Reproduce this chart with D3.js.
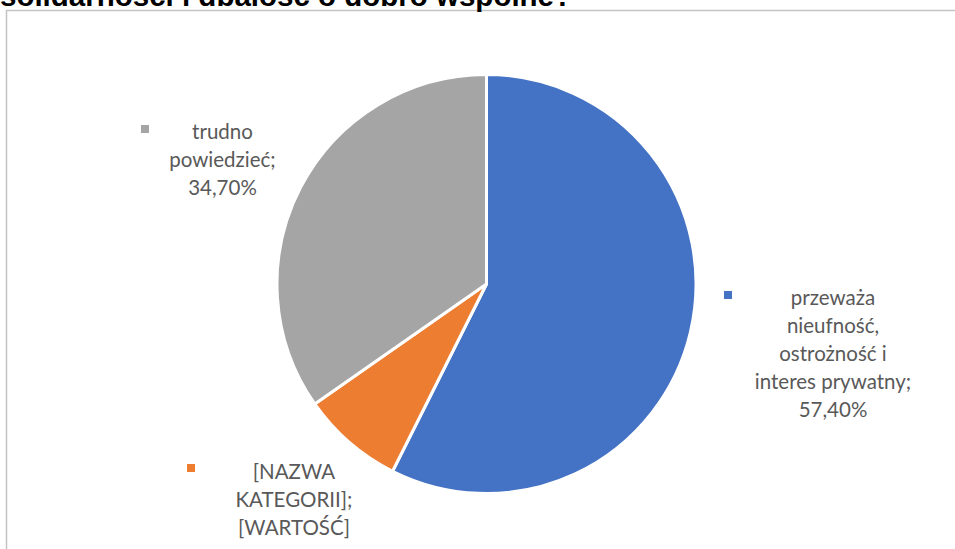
<!DOCTYPE html>
<html>
<head>
<meta charset="utf-8">
<script src="https://cdn.jsdelivr.net/npm/d3@7"></script>
<style>
  html, body { margin: 0; padding: 0; background: #fff; }
  svg { display: block; }
</style>
</head>
<body>
<svg id="chart" width="955" height="549"></svg>
<script>
// Survey answers and their shares (%)
const categories = [
  "przeważa nieufność, ostrożność i interes prywatny",
  "[NAZWA KATEGORII]",
  "trudno powiedzieć"
];
const values = [57.4, 7.9, 34.7];
const labelLines = [
  ["przeważa", "nieufność,", "ostrożność i", "interes prywatny;", "57,40%"],
  ["[NAZWA", "KATEGORII];", "[WARTOŚĆ]"],
  ["trudno", "powiedzieć;", "34,70%"]
];
const colors = ["#4472C4", "#ED7D31", "#A5A5A5"];
const titleText = "solidarności i dbałość o dobro wspólne?";

const svg = d3.select("#chart");

// chart area frame (clipped by the page edges on the right and bottom)
svg.append("rect")
  .attr("x", 6.5).attr("y", 10.5)
  .attr("width", 1000).attr("height", 600)
  .attr("fill", "#fff")
  .attr("stroke", "#c4c4c4")
  .attr("stroke-width", 1.5);

// title, only its lower part fits on the page
svg.append("text")
  .attr("x", 0).attr("y", 6)
  .attr("font-family", "Liberation Sans, Arial, sans-serif")
  .attr("font-weight", "bold")
  .attr("font-size", 29.5)
  .attr("fill", "#000")
  .text(titleText);

const cx = 486.5, cy = 284, r = 209.5;
const data = categories.map((c, i) => ({ cat: c, value: values[i], color: colors[i], lines: labelLines[i] }));

const pie = d3.pie().value(d => d.value).sort(null);
const arc = d3.arc().innerRadius(0).outerRadius(r);
const arcs = pie(data);

const g = svg.append("g").attr("transform", `translate(${cx},${cy})`);
g.selectAll("path")
  .data(arcs)
  .join("path")
  .attr("d", arc)
  .attr("fill", d => d.data.color)
  .attr("stroke", "#fff")
  .attr("stroke-width", 3)
  .attr("stroke-linejoin", "round");

// data labels: legend key square + centred multi-line text
const labelPos = [
  { x: 833, y: 305, kx: 724, ky: 291 },
  { x: 294, y: 479, kx: 187, ky: 464 },
  { x: 222.5, y: 139, kx: 141, ky: 125 }
];
const lineH = 28;
const labels = svg.append("g")
  .selectAll("g")
  .data(arcs)
  .join("g");

labels.append("rect")
  .attr("x", (d, i) => labelPos[i].kx)
  .attr("y", (d, i) => labelPos[i].ky)
  .attr("width", 8).attr("height", 8)
  .attr("fill", d => d.data.color);

labels.append("text")
  .attr("font-family", "Lato, 'Open Sans', sans-serif")
  .attr("font-size", 20.5)
  .attr("fill", "#595959")
  .attr("text-anchor", "middle")
  .selectAll("tspan")
  .data((d, i) => d.data.lines.map((t, j) => ({ t, x: labelPos[i].x, y: labelPos[i].y + j * lineH })))
  .join("tspan")
  .attr("x", d => d.x)
  .attr("y", d => d.y)
  .text(d => d.t);
</script>
</body>
</html>
